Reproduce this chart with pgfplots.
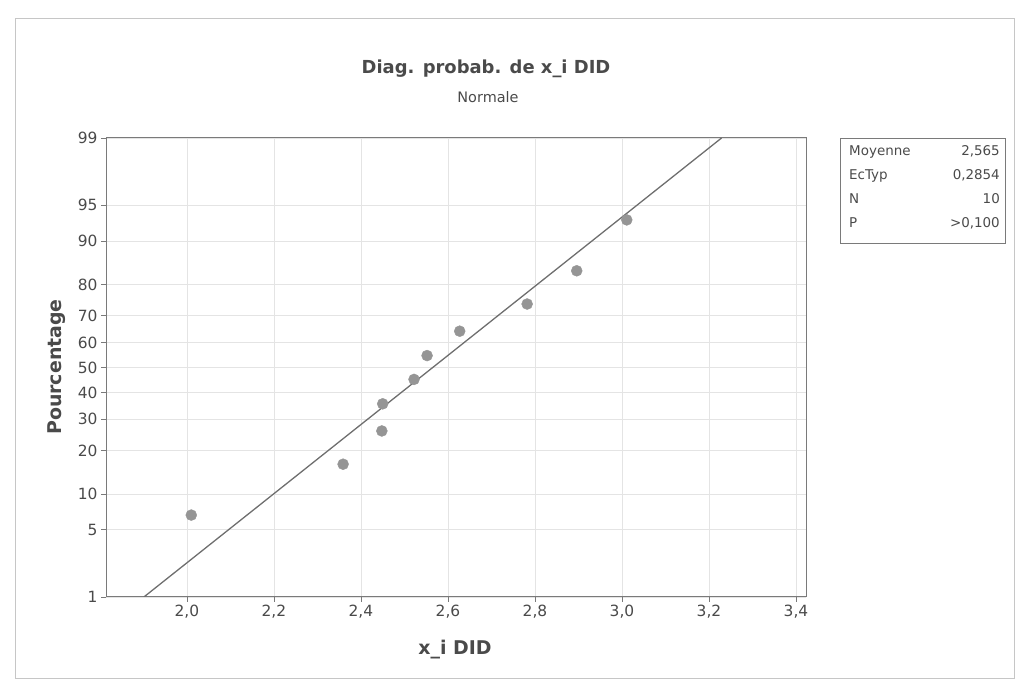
\documentclass[border=0pt]{standalone}
\usepackage{pgfplots}
\pgfplotsset{compat=1.18}
\usepackage{fontspec}
\setmainfont{DejaVu Sans}
\definecolor{axgray}{HTML}{7A7A7A}
\definecolor{gridgray}{HTML}{E4E4E4}
\definecolor{linegray}{HTML}{6E6E6E}
\definecolor{ptgray}{HTML}{959595}
\definecolor{txtgray}{HTML}{4A4A4A}
\begin{document}
\begin{tikzpicture}[x=1bp,y=1bp]
\path[use as bounding box] (0,0) rectangle (1020,685);
\draw[gray!45, line width=1bp] (15,6) rectangle (1014,666);
% titles
\node[font=\fontsize{18}{20}\selectfont\bfseries, text=txtgray] at (486,616) {Diag. probab. de x\_i DID};
\node[font=\fontsize{14.5}{16}\selectfont, text=txtgray] at (488,588) {Normale};
% axis labels
\node[font=\fontsize{19}{21}\selectfont\bfseries, text=txtgray, rotate=90] at (57,318) {Pourcentage};
\node[font=\fontsize{19}{21}\selectfont\bfseries, text=txtgray] at (455,35) {x\_i DID};
% stats box
\draw[axgray, line width=0.8bp] (840,547) rectangle (1005,442);
\begin{scope}[font=\fontsize{13.5}{15}\selectfont, text=txtgray]
\node[anchor=base west, inner sep=0pt] at (849,529) {Moyenne};
\node[anchor=base west, inner sep=0pt] at (849,505) {EcTyp};
\node[anchor=base west, inner sep=0pt] at (849,481) {N};
\node[anchor=base west, inner sep=0pt] at (849,457) {P};
\node[anchor=base east, inner sep=0pt] at (1000,529) {2,565};
\node[anchor=base east, inner sep=0pt] at (1000,505) {0,2854};
\node[anchor=base east, inner sep=0pt] at (1000,481) {10};
\node[anchor=base east, inner sep=0pt] at (1000,457) {>0,100};
\end{scope}
\begin{axis}[
  at={(106bp,88bp)}, anchor=south west,
  scale only axis, width=700bp, height=459bp,
  xmin=1.814, xmax=3.423,
  ymin=-2.3263, ymax=2.3263,
  xtick={2.0,2.2,2.4,2.6,2.8,3.0,3.2,3.4},
  ytick={-2.3263,-1.6449,-1.2816,-0.8416,-0.5244,-0.2533,0,0.2533,0.5244,0.8416,1.2816,1.6449,2.3263},
  yticklabels={1,5,10,20,30,40,50,60,70,80,90,95,99},
  /pgf/number format/.cd, use comma, fixed, fixed zerofill, precision=1, assume math mode=true,
  /pgfplots/.cd,
  tick label style={font=\fontsize{15.5}{17}\selectfont, text=txtgray},
  axis line style={axgray, line width=1bp},
  tick style={axgray, line width=0.8bp},
  tick align=outside,
  major tick length=5bp,
  xtick pos=bottom, ytick pos=left,
  grid=major,
  major grid style={gridgray, line width=0.8bp},
  clip=true,
]
\addplot[linegray, line width=1.3bp] coordinates {(1.9011,-2.3263) (3.2289,2.3263)};
\addplot[only marks, mark=*, mark size=5.5bp, mark options={fill=ptgray, draw=ptgray}] coordinates {
(2.010,-1.4960)
(2.359,-0.9803)
(2.448,-0.6433)
(2.450,-0.3681)
(2.522,-0.1206)
(2.552,0.1206)
(2.627,0.3681)
(2.782,0.6433)
(2.896,0.9803)
(3.011,1.4960)
};
\end{axis}
\end{tikzpicture}
\end{document}
